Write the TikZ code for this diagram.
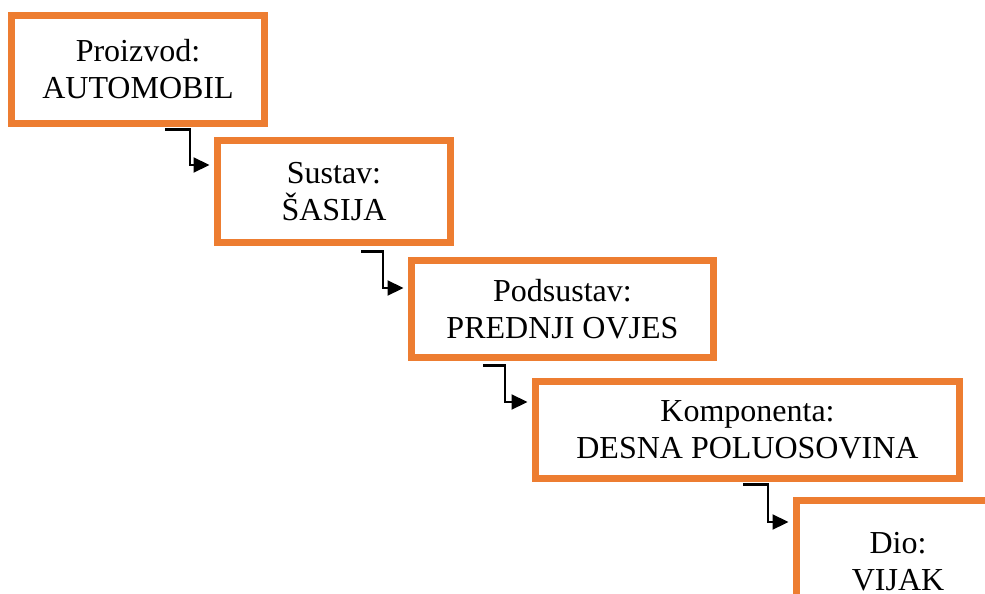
\documentclass[tikz,border=0pt]{standalone}
\usepackage{fontspec}
\setmainfont{Liberation Serif}
\usetikzlibrary{arrows.meta}
\definecolor{boxorange}{RGB}{237,125,49}
\begin{document}
\begin{tikzpicture}[x=1pt,y=-1pt,
  levelbox/.style={draw=boxorange, line width=7pt, rectangle, inner sep=0pt,
    align=center, font=\fontsize{32}{37}\selectfont, fill=white},
  conn/.style={draw=black, line width=2.2pt, -{Triangle[length=16pt,width=15pt]}}]
\useasboundingbox (0,0) rectangle (985,594);
\clip (0,0) rectangle (985,594);
\fill[white] (0,0) rectangle (985,594);
\node[levelbox, minimum width=253pt, minimum height=108pt] (b1) at (138,69.5) {Proizvod:\\AUTOMOBIL};
\node[levelbox, minimum width=233pt, minimum height=102pt] (b2) at (334,191.5) {Sustav:\\ŠASIJA};
\node[levelbox, minimum width=302pt, minimum height=97pt] (b3) at (562.5,309) {Podsustav:\\PREDNJI OVJES};
\node[levelbox, minimum width=424pt, minimum height=97pt] (b4) at (747.5,430) {Komponenta:\\DESNA POLUOSOVINA};
\node[levelbox, minimum width=203pt, minimum height=122pt] (b5) at (898,561.5) {Dio:\\VIJAK};
\draw[conn] ([xshift=27pt,yshift=-2.5pt]b1.south) -- ++(25,0) |- ([xshift=-4.5pt,yshift=26.5pt]b2.west);
\draw[conn] ([xshift=27pt,yshift=-5.5pt]b2.south) -- ++(22,0) |- ([xshift=-4.5pt,yshift=21pt]b3.west);
\draw[conn] ([xshift=-79.5pt,yshift=-4.5pt]b3.south) -- ++(22,0) |- ([xshift=-4.5pt,yshift=28pt]b4.west);
\draw[conn] ([xshift=-4.5pt,yshift=-2.5pt]b4.south) -- ++(25,0) |- ([xshift=-4.5pt,yshift=39.5pt]b5.west);
\end{tikzpicture}
\end{document}
